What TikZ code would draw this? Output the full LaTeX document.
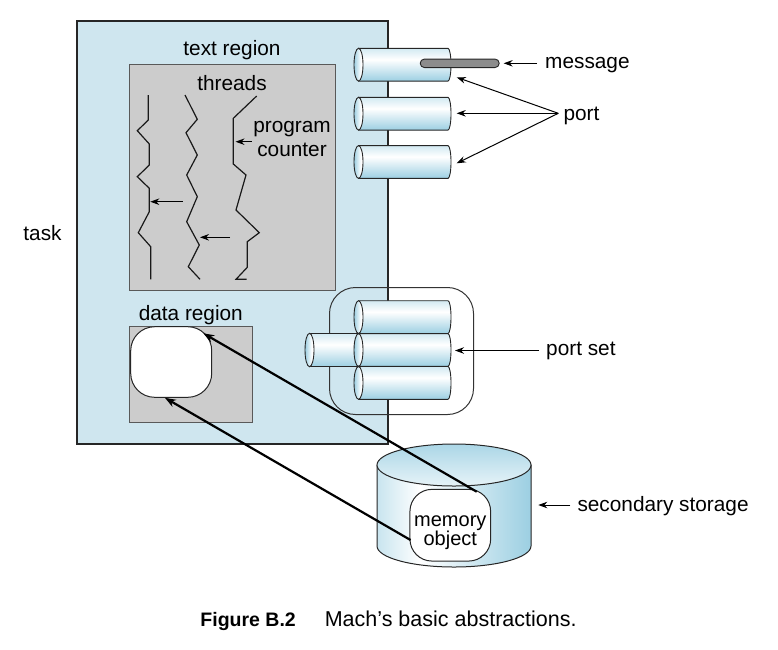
\documentclass[tikz,border=0pt]{standalone}
\usepackage{fontspec}
\setmainfont{Liberation Sans}
\usetikzlibrary{arrows.meta,positioning}
\definecolor{taskblue}{HTML}{CFE6EF}
\definecolor{pipeblue}{HTML}{9CCFE2}
\definecolor{regiongray}{HTML}{CCCCCC}
\definecolor{msggray}{HTML}{8C8C8C}
\colorlet{pipelight}{pipeblue!45}
\colorlet{drumlight}{pipeblue!55}
\pgfdeclareverticalshading{pipeshade}{100bp}{color(0bp)=(pipeblue); color(25bp)=(pipeblue); color(58bp)=(white); color(75bp)=(pipelight); color(100bp)=(pipelight)}
\pgfdeclarehorizontalshading{faceshade}{100bp}{color(0bp)=(pipeblue); color(25bp)=(pipeblue); color(62bp)=(white); color(100bp)=(white)}
\pgfdeclarehorizontalshading{drumshade}{100bp}{color(0bp)=(drumlight); color(25bp)=(drumlight); color(39bp)=(white); color(75bp)=(pipeblue); color(100bp)=(pipeblue)}

\begin{document}
\begin{tikzpicture}[x=1pt, y=-1pt, >={Stealth[length=9pt,width=6.5pt]},
  lbl/.style={font=\fontsize{20.8}{22}\selectfont, inner sep=2pt},
  task/.style={draw=black!85, line width=2pt, fill=taskblue},
  region/.style={draw=black!65, line width=1pt, fill=regiongray},
  thread/.style={draw=black!90, line width=1.2pt},
  pipe/.style={shade, shading=pipeshade, draw=black!85, line width=0.9pt},
  pipeface/.style={shade, shading=faceshade, draw=black!85, line width=0.9pt},
  ptr/.style={->, line width=1pt},
  mapline/.style={-{Stealth[length=11pt,width=8pt]}, line width=2.2pt},
  msg/.style={draw=black!85, fill=msggray, line width=0.9pt, rounded corners=4.2pt, minimum width=79pt, minimum height=8.5pt, inner sep=0pt},
  blob/.style={draw=black!85, fill=white, line width=1pt, rounded corners=24pt, inner sep=0pt}]
\useasboundingbox (0,0) rectangle (778,649);

\draw[task] (76.5,21) rectangle (387.5,443.5);
\node[lbl, anchor=base] (tasklbl) at (42.5,240.7) {task};

\draw[region] (129,64.5) rectangle (335,290.5);
\node[lbl, anchor=base] (textlbl) at (232,55.5) {text region};
\node[lbl, anchor=base] (threadlbl) at (232,90) {threads};
\node[lbl, anchor=base] (pclbl) at (292,132.7) {program};
\node[lbl, anchor=base] (pclbl2) at (292,156) {counter};

\draw[thread] (148.3,95) -- (148.3,120) -- (137.3,130.7) -- (149.3,144) -- (149.3,165) -- (137.3,176.7)
  -- (149.3,188.3) -- (149.3,211.7) -- (138.3,232.7) -- (150.7,246.7) -- (150.7,279.3);
\draw[thread] (185,95) -- (197.3,119.3) -- (186,132.7) -- (197.3,155) -- (186.7,175) -- (197.3,196.7)
  -- (186.7,221.7) -- (199.3,245) -- (188.3,266.7) -- (200,279.3);
\draw[thread] (256.7,96) -- (233.3,118.3) -- (233.3,164) -- (246,175) -- (236,210) -- (259.3,232.7)
  -- (247.3,241.7) -- (247.3,267.3) -- (236,279.3) -- (246.7,279.3);
\coordinate (t1tail) at (182.7,201.7);
\coordinate (t1tip) at (150.3,201.7);
\coordinate (t2tail) at (230,237.3);
\coordinate (t2tip) at (200,237.3);
\coordinate (pctail) at (251.7,141.7);
\coordinate (pctip) at (235.5,141.7);
\draw[ptr] (t1tail) -- (t1tip);
\draw[ptr] (t2tail) -- (t2tip);
\draw[ptr] (pctail) -- (pctip);

\draw[region] (129.3,326.7) rectangle (252.7,422.7);
\node[lbl, anchor=base] (datalbl) at (190.8,320) {data region};
\node[blob, minimum width=81pt, minimum height=70.6pt] (blob) at (171.2,362) {};

\draw[line width=1pt, draw=black!80, rounded corners=26pt] (329.5,287.5) rectangle (473.5,414.5);
\draw[pipe] (309.5,333.3) -- (358,333.3) -- (358,366.7) -- (309.5,366.7) -- cycle;
\draw[pipeface] (309.5,350) ellipse (4.5pt and 16.7pt);
\foreach \y in {64.7,113.7,162,317.1,350,382.9}{
  \draw[pipe] (358.5,\y-16.4) -- (448,\y-16.4) arc (90:-90:3pt and 16.4pt) -- (358.5,\y+16.4) -- cycle;
  \draw[pipeface] (358.5,\y) ellipse (4.5pt and 16.4pt);
}

\node[msg] (msg) at (459.7,63.3) {};
\node[lbl, anchor=base west] (msglbl) at (543,68.5) {message};
\draw[ptr] ([xshift=-6pt]msglbl.west |- msg.east) -- ([xshift=4pt]msg.east);

\coordinate (port1) at (456.7,77.3);
\coordinate (port2) at (456.7,113.3);
\coordinate (port3) at (456.7,163.3);
\node[lbl, anchor=base west] (portlbl) at (561.3,120) {port};
\foreach \i in {1,2,3}
  \draw[ptr] ([xshift=-3pt]portlbl.west |- port2) -- (port\i);

\coordinate (pset) at (455,350.5);
\node[lbl, anchor=base west] (psetlbl) at (544,355.5) {port set};
\draw[ptr] ([xshift=-5pt]psetlbl.west |- pset) -- (pset);

\draw[shade, shading=drumshade, draw=black!85, line width=1pt] (377,465) -- (377,546) arc (180:360:77pt and 21pt) -- (531,465) -- cycle;
\draw[top color=pipeblue!85, bottom color=pipeblue!25, draw=black!85, line width=1pt] (454,465) ellipse (77pt and 21pt);
\node[blob, minimum width=80.7pt, minimum height=71.7pt, rounded corners=22pt] (mem) at (450.3,525.2) {};
\node[font=\fontsize{20}{19}\selectfont, align=center, inner sep=0pt] (memlbl) at (450.3,533.1) {memory\\object};

\coordinate (drumr) at (538.3,505);
\node[lbl, anchor=base west] (storelbl) at (575.3,511.7) {secondary storage};
\draw[ptr] ([xshift=-5pt]storelbl.west |- drumr) -- (drumr);

\coordinate (memA) at (476.7,491.7);
\coordinate (memB) at (410.5,540);
\coordinate (blobtip) at (203.3,333.3);
\draw[mapline] (memA) -- (blobtip);
\draw[mapline] (memB) -- (blob.-100);

\node[anchor=base, inner sep=0pt] (caption) at (388.5,626) {\fontsize{19.5}{22}\selectfont\bfseries Figure B.2\hspace{29pt}\fontsize{21.5}{22}\selectfont\mdseries Mach’s basic abstractions.};
\end{tikzpicture}
\end{document}
